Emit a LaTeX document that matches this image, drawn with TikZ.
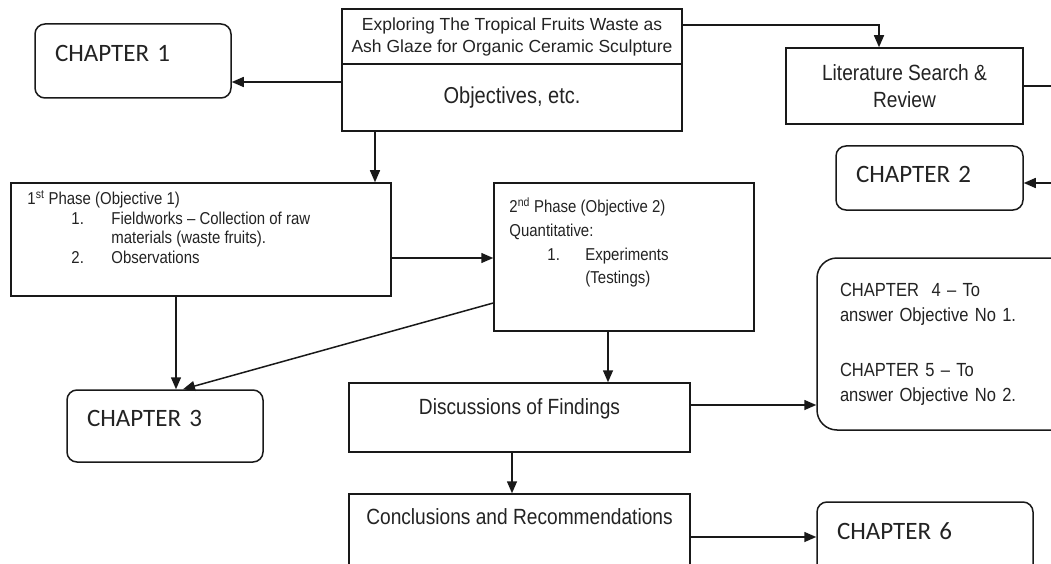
\documentclass[tikz,border=0pt]{standalone}
\usepackage{fontspec}
\setmainfont{Liberation Sans}
\newfontfamily\narrowfont[FakeStretch=0.87]{Liberation Sans}
\newfontfamily\chapfont{Carlito}
\usepackage{tikz}
\usetikzlibrary{arrows.meta, positioning}
\definecolor{linecolor}{RGB}{25,25,25}
\definecolor{textcolor}{RGB}{35,35,35}

\begin{document}
\begin{tikzpicture}[
    x=1pt, y=-1pt,
    box/.style={draw=linecolor, line width=1.5pt, text=textcolor, inner sep=0pt},
    stage/.style={box, font=\narrowfont\fontsize{22}{27}\selectfont, align=center},
    chapter/.style={box, rounded corners=10pt, font=\chapfont\fontsize{25}{30}\selectfont, align=left, inner xsep=20pt, text depth=15pt},
    listtext/.style={text=textcolor, inner sep=0pt, align=left, font=\narrowfont\fontsize{17.2}{19.5}\selectfont},
    arrow/.style={-{Triangle[length=12pt, width=10pt]}, line width=1.5pt, linecolor}
]
    \clip (0,0) rectangle (1051,564);
    \fill[white] (0,0) rectangle (1051,564);

    % Title block
    \node[box, minimum width=340pt, minimum height=55pt, align=center, font=\fontsize{17.5}{22}\selectfont] (head) at (512,36.5) {Exploring The Tropical Fruits Waste as\\Ash Glaze for Organic Ceramic Sculpture};
    \node[stage, minimum width=340pt, minimum height=67pt, font=\narrowfont\fontsize{23}{27}\selectfont] (objectives) at (512,97.5) {Objectives, etc.};

    % Chapters
    \node[chapter, text width=156pt, minimum height=74pt] (chap1) at (133,61) {CHAPTER 1};
    \node[chapter, text width=147pt, minimum height=64pt, text depth=8pt] (chap2) at (929.5,178) {CHAPTER 2};
    \node[chapter, text width=156pt, minimum height=72pt] (chap3) at (165,426) {CHAPTER 3};
    \node[chapter, text width=176pt, minimum height=74pt] (chap6) at (925,539) {CHAPTER 6};
    \node[box, rounded corners=20pt, align=left, text width=212pt, inner xsep=23pt, minimum height=172pt, font=\narrowfont\fontsize{19}{25}\selectfont] (chap45) at (946,344) {CHAPTER\ \ 4 – To\\answer Objective No 1.\\[30pt]CHAPTER 5 – To\\answer Objective No 2.};

    % Literature
    \node[stage, minimum width=237pt, minimum height=76pt] (lit) at (904.5,86) {Literature Search \&\\Review};

    % Phases
    \node[box, minimum width=380pt, minimum height=113pt] (phase1) at (201,239.5) {};
    \node[listtext, below right=8pt and 17pt of phase1.north west] (phase1text) {%
        1\textsuperscript{st} Phase (Objective 1)\\
        \hspace*{44pt}\makebox[40pt][l]{1.}Fieldworks – Collection of raw\\
        \hspace*{84pt}materials (waste fruits).\\
        \hspace*{44pt}\makebox[40pt][l]{2.}Observations};
    \node[box, minimum width=260pt, minimum height=148pt] (phase2) at (624,257) {};
    \node[listtext, font=\narrowfont\fontsize{17.2}{23.8}\selectfont, below right=15pt and 16pt of phase2.north west] (phase2text) {%
        2\textsuperscript{nd} Phase (Objective 2)\\
        Quantitative:\\
        \hspace*{38pt}\makebox[38pt][l]{1.}Experiments\\
        \hspace*{76pt}(Testings)};

    % Findings and conclusions
    \node[stage, minimum width=341pt, minimum height=69pt, text depth=21pt] (disc) at (519.5,417.5) {Discussions of Findings};
    \node[stage, minimum width=341pt, minimum height=72pt, text depth=26pt] (concl) at (519.5,530) {Conclusions and Recommendations};

    % Arrows
    \draw[arrow] (objectives.west |- 0,82) -- (chap1.east |- 0,82);
    \draw[arrow] (head.east |- 0,25) -| (879,0 |- lit.north);
    \draw[arrow] (lit.east) -- ++(45,0) |- ([yshift=-5pt]chap2.east);
    \draw[arrow] (objectives.south -| 375,0) -- (phase1.north -| 375,0);
    \draw[arrow] (phase1.east |- 0,258) -- (phase2.west |- 0,258);
    \draw[arrow] (phase1.south -| 176,0) -- (chap3.north -| 176,0);
    \draw[arrow] (phase2.west |- 0,303) -- (chap3.north -| 183,0);
    \draw[arrow] (phase2.south -| 608,0) -- (disc.north -| 608,0);
    \draw[arrow] (disc.east |- 0,405) -- (chap45.west |- 0,405);
    \draw[arrow] (disc.south -| 512,0) -- (concl.north -| 512,0);
    \draw[arrow] (concl.east |- 0,537) -- (chap6.west |- 0,537);
\end{tikzpicture}
\end{document}
